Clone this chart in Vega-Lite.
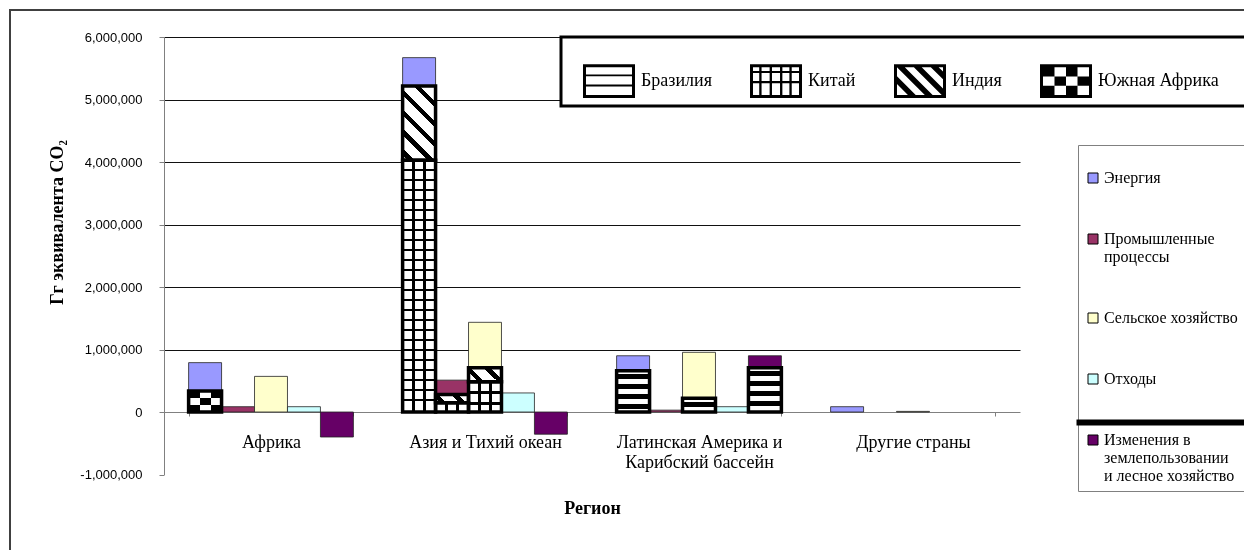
{
  "$schema": "https://vega.github.io/schema/vega-lite/v6.json",
  "autosize": {"type": "none"},
  "width": 856,
  "height": 437.5,
  "padding": {"left": 164, "top": 37, "right": 224, "bottom": 75.5},
  "background": "#ffffff",
  "config": {
    "font": "Liberation Serif",
    "view": {"stroke": null},
    "axis": {"labelColor": "#000", "titleColor": "#000"}
  },
  "datasets": {
    "sectors": [
      {"region": "Африка", "sector": "Энергия", "value": 790000},
      {"region": "Африка", "sector": "Промышленные процессы", "value": 85000},
      {"region": "Африка", "sector": "Сельское хозяйство", "value": 570000},
      {"region": "Африка", "sector": "Отходы", "value": 85000},
      {"region": "Африка", "sector": "Изменения в землепользовании и лесное хозяйство", "value": -400000},
      {"region": "Азия и Тихий океан", "sector": "Энергия", "value": 5670000},
      {"region": "Азия и Тихий океан", "sector": "Промышленные процессы", "value": 510000},
      {"region": "Азия и Тихий океан", "sector": "Сельское хозяйство", "value": 1435000},
      {"region": "Азия и Тихий океан", "sector": "Отходы", "value": 305000},
      {"region": "Азия и Тихий океан", "sector": "Изменения в землепользовании и лесное хозяйство", "value": -355000},
      {"region": "Латинская Америка и Карибский бассейн", "sector": "Энергия", "value": 900000},
      {"region": "Латинская Америка и Карибский бассейн", "sector": "Промышленные процессы", "value": 30000},
      {"region": "Латинская Америка и Карибский бассейн", "sector": "Сельское хозяйство", "value": 955000},
      {"region": "Латинская Америка и Карибский бассейн", "sector": "Отходы", "value": 85000},
      {"region": "Латинская Америка и Карибский бассейн", "sector": "Изменения в землепользовании и лесное хозяйство", "value": 900000},
      {"region": "Другие страны", "sector": "Энергия", "value": 85000},
      {"region": "Другие страны", "sector": "Сельское хозяйство", "value": 10000}
    ],
    "parts": [
      {"region": "Африка", "sector": "Энергия", "country": "Южная Африка", "lo": 0, "hi": 335000},
      {"region": "Азия и Тихий океан", "sector": "Энергия", "country": "Китай", "lo": 0, "hi": 4030000},
      {"region": "Азия и Тихий океан", "sector": "Энергия", "country": "Индия", "lo": 4030000, "hi": 5215000},
      {"region": "Азия и Тихий океан", "sector": "Промышленные процессы", "country": "Китай", "lo": 0, "hi": 150000},
      {"region": "Азия и Тихий океан", "sector": "Промышленные процессы", "country": "Индия", "lo": 150000, "hi": 280000},
      {"region": "Азия и Тихий океан", "sector": "Сельское хозяйство", "country": "Китай", "lo": 0, "hi": 485000},
      {"region": "Азия и Тихий океан", "sector": "Сельское хозяйство", "country": "Индия", "lo": 485000, "hi": 710000},
      {"region": "Латинская Америка и Карибский бассейн", "sector": "Энергия", "country": "Бразилия", "lo": 0, "hi": 660000},
      {"region": "Латинская Америка и Карибский бассейн", "sector": "Сельское хозяйство", "country": "Бразилия", "lo": 0, "hi": 220000},
      {"region": "Латинская Америка и Карибский бассейн", "sector": "Изменения в землепользовании и лесное хозяйство", "country": "Бразилия", "lo": 0, "hi": 710000}
    ]
  },
  "layer": [
    {
      "data": {"name": "sectors"},
      "mark": {"type": "bar", "stroke": "#222222", "strokeWidth": 0.8},
      "encoding": {
        "x": {
          "field": "region", "type": "nominal",
          "scale": {
            "domain": ["Африка", "Азия и Тихий океан", "Латинская Америка и Карибский бассейн", "Другие страны"],
            "paddingInner": 0.23, "paddingOuter": 0.115
          },
          "axis": {
            "title": "Регион",
            "offset": -62.5,
            "labelAngle": 0,
            "labelFont": "Liberation Serif", "labelFontSize": 18, "labelLineHeight": 20,
            "labelPadding": 17, "labelLimit": 400,
            "labelExpr": "datum.value == 'Латинская Америка и Карибский бассейн' ? ['Латинская Америка и', 'Карибский бассейн'] : datum.value",
            "tickBand": "extent", "tickSize": 4, "tickColor": "#808080", "domainColor": "#808080",
            "titleFont": "Liberation Serif", "titleFontSize": 18, "titleFontWeight": "bold", "titlePadding": 28
          }
        },
        "xOffset": {
          "field": "sector", "type": "nominal",
          "scale": {
            "domain": ["Энергия", "Промышленные процессы", "Сельское хозяйство", "Отходы", "Изменения в землепользовании и лесное хозяйство"],
            "paddingInner": 0, "paddingOuter": 0
          }
        },
        "y": {
          "field": "value", "type": "quantitative",
          "scale": {"domain": [-1000000, 6000000], "nice": false},
          "axis": {
            "title": "Гг эквивалента CO₂",
            "values": [-1000000, 0, 1000000, 2000000, 3000000, 4000000, 5000000, 6000000],
            "labelExpr": "datum.value < 0 ? '-' + format(-datum.value, ',') : format(datum.value, ',')",
            "labelFont": "Liberation Sans", "labelFontSize": 13, "labelPadding": 17,
            "tickSize": 5, "tickColor": "#808080", "domainColor": "#808080",
            "grid": true,
            "gridColor": {"condition": {"test": "datum.value <= 0", "value": "transparent"}, "value": "#111111"},
            "gridWidth": 1,
            "titleFont": "Liberation Serif", "titleFontSize": 18, "titleFontWeight": "bold",
            "titleX": -107, "titleY": 185, "titleAngle": 270, "titleAlign": "center", "titleBaseline": "middle"
          }
        },
        "fill": {
          "field": "sector", "type": "nominal",
          "scale": {
            "domain": ["Энергия", "Промышленные процессы", "Сельское хозяйство", "Отходы", "Изменения в землепользовании и лесное хозяйство"],
            "range": ["#9999ff", "#993366", "#ffffcc", "#ccffff", "#660066"]
          },
          "legend": {
            "title": " ", "titleFontSize": 10, "titlePadding": 8,
            "orient": "none", "legendX": 914, "legendY": 108, "direction": "vertical",
            "padding": 7, "strokeColor": "#808080", "fillColor": "#ffffff",
            "symbolType": "square", "symbolSize": 100, "symbolStrokeColor": "#000000", "symbolStrokeWidth": 1,
            "labelFont": "Liberation Serif", "labelFontSize": 16, "labelLineHeight": 17, "labelOffset": 3,
            "labelLimit": 400, "rowPadding": 45, "labelColor": "#000",
            "labelExpr": "datum.label == 'Промышленные процессы' ? ['Промышленные', 'процессы'] : datum.label == 'Изменения в землепользовании и лесное хозяйство' ? ['Изменения в', 'землепользовании', 'и лесное хозяйство'] : datum.label == 'Сельское хозяйство' ? 'Сельское хозяйство\u2800\u2800\u2800' : datum.label"
          }
        }
      }
    },
    {
      "data": {"name": "parts"},
      "mark": {"type": "bar"},
      "encoding": {
        "x": {"field": "region", "type": "nominal"},
        "xOffset": {"field": "sector", "type": "nominal"},
        "y": {"field": "lo", "type": "quantitative"},
        "y2": {"field": "hi"},
        "fill": {
          "condition": [
            {"test": "datum.country == 'Бразилия' && datum.sector == 'Энергия'",
             "value": {"gradient": "linear", "x1": 0, "y1": 0, "x2": 0, "y2": 1, "stops": [
               {"offset": 0, "color": "#fff"}, {"offset": 0.073, "color": "#fff"}, {"offset": 0.073, "color": "#000"}, {"offset": 0.194, "color": "#000"},
               {"offset": 0.194, "color": "#fff"}, {"offset": 0.315, "color": "#fff"}, {"offset": 0.315, "color": "#000"}, {"offset": 0.436, "color": "#000"},
               {"offset": 0.436, "color": "#fff"}, {"offset": 0.558, "color": "#fff"}, {"offset": 0.558, "color": "#000"}, {"offset": 0.679, "color": "#000"},
               {"offset": 0.679, "color": "#fff"}, {"offset": 0.8, "color": "#fff"}, {"offset": 0.8, "color": "#000"}, {"offset": 0.921, "color": "#000"},
               {"offset": 0.921, "color": "#fff"}, {"offset": 1, "color": "#fff"}]}},
            {"test": "datum.country == 'Бразилия' && datum.sector == 'Сельское хозяйство'",
             "value": {"gradient": "linear", "x1": 0, "y1": 0, "x2": 0, "y2": 1, "stops": [
               {"offset": 0, "color": "#fff"}, {"offset": 0.255, "color": "#fff"}, {"offset": 0.255, "color": "#000"}, {"offset": 0.655, "color": "#000"},
               {"offset": 0.655, "color": "#fff"}, {"offset": 1, "color": "#fff"}]}},
            {"test": "datum.country == 'Бразилия'",
             "value": {"gradient": "linear", "x1": 0, "y1": 0, "x2": 0, "y2": 1, "stops": [
               {"offset": 0, "color": "#fff"}, {"offset": 0.068, "color": "#fff"}, {"offset": 0.068, "color": "#000"}, {"offset": 0.18, "color": "#000"},
               {"offset": 0.18, "color": "#fff"}, {"offset": 0.293, "color": "#fff"}, {"offset": 0.293, "color": "#000"}, {"offset": 0.405, "color": "#000"},
               {"offset": 0.405, "color": "#fff"}, {"offset": 0.518, "color": "#fff"}, {"offset": 0.518, "color": "#000"}, {"offset": 0.631, "color": "#000"},
               {"offset": 0.631, "color": "#fff"}, {"offset": 0.743, "color": "#fff"}, {"offset": 0.743, "color": "#000"}, {"offset": 0.856, "color": "#000"},
               {"offset": 0.856, "color": "#fff"}, {"offset": 0.968, "color": "#fff"}, {"offset": 0.968, "color": "#000"}, {"offset": 1, "color": "#000"}]}},
            {"test": "datum.country == 'Китай' && datum.sector == 'Энергия'",
             "value": {"gradient": "linear", "x1": 0, "y1": 0, "x2": 0, "y2": 1, "stops": [
               {"offset": 0, "color": "#fff"},
               {"offset": 0.0347, "color": "#fff"}, {"offset": 0.0347, "color": "#000"}, {"offset": 0.0447, "color": "#000"}, {"offset": 0.0447, "color": "#fff"},
               {"offset": 0.0744, "color": "#fff"}, {"offset": 0.0744, "color": "#000"}, {"offset": 0.0844, "color": "#000"}, {"offset": 0.0844, "color": "#fff"},
               {"offset": 0.1141, "color": "#fff"}, {"offset": 0.1141, "color": "#000"}, {"offset": 0.1241, "color": "#000"}, {"offset": 0.1241, "color": "#fff"},
               {"offset": 0.1538, "color": "#fff"}, {"offset": 0.1538, "color": "#000"}, {"offset": 0.1638, "color": "#000"}, {"offset": 0.1638, "color": "#fff"},
               {"offset": 0.1935, "color": "#fff"}, {"offset": 0.1935, "color": "#000"}, {"offset": 0.2035, "color": "#000"}, {"offset": 0.2035, "color": "#fff"},
               {"offset": 0.2332, "color": "#fff"}, {"offset": 0.2332, "color": "#000"}, {"offset": 0.2432, "color": "#000"}, {"offset": 0.2432, "color": "#fff"},
               {"offset": 0.2729, "color": "#fff"}, {"offset": 0.2729, "color": "#000"}, {"offset": 0.2829, "color": "#000"}, {"offset": 0.2829, "color": "#fff"},
               {"offset": 0.3126, "color": "#fff"}, {"offset": 0.3126, "color": "#000"}, {"offset": 0.3226, "color": "#000"}, {"offset": 0.3226, "color": "#fff"},
               {"offset": 0.3523, "color": "#fff"}, {"offset": 0.3523, "color": "#000"}, {"offset": 0.3623, "color": "#000"}, {"offset": 0.3623, "color": "#fff"},
               {"offset": 0.392, "color": "#fff"}, {"offset": 0.392, "color": "#000"}, {"offset": 0.402, "color": "#000"}, {"offset": 0.402, "color": "#fff"},
               {"offset": 0.4317, "color": "#fff"}, {"offset": 0.4317, "color": "#000"}, {"offset": 0.4417, "color": "#000"}, {"offset": 0.4417, "color": "#fff"},
               {"offset": 0.4714, "color": "#fff"}, {"offset": 0.4714, "color": "#000"}, {"offset": 0.4814, "color": "#000"}, {"offset": 0.4814, "color": "#fff"},
               {"offset": 0.5111, "color": "#fff"}, {"offset": 0.5111, "color": "#000"}, {"offset": 0.5211, "color": "#000"}, {"offset": 0.5211, "color": "#fff"},
               {"offset": 0.5508, "color": "#fff"}, {"offset": 0.5508, "color": "#000"}, {"offset": 0.5608, "color": "#000"}, {"offset": 0.5608, "color": "#fff"},
               {"offset": 0.5905, "color": "#fff"}, {"offset": 0.5905, "color": "#000"}, {"offset": 0.6005, "color": "#000"}, {"offset": 0.6005, "color": "#fff"},
               {"offset": 0.6302, "color": "#fff"}, {"offset": 0.6302, "color": "#000"}, {"offset": 0.6402, "color": "#000"}, {"offset": 0.6402, "color": "#fff"},
               {"offset": 0.6699, "color": "#fff"}, {"offset": 0.6699, "color": "#000"}, {"offset": 0.6799, "color": "#000"}, {"offset": 0.6799, "color": "#fff"},
               {"offset": 0.7096, "color": "#fff"}, {"offset": 0.7096, "color": "#000"}, {"offset": 0.7196, "color": "#000"}, {"offset": 0.7196, "color": "#fff"},
               {"offset": 0.7493, "color": "#fff"}, {"offset": 0.7493, "color": "#000"}, {"offset": 0.7593, "color": "#000"}, {"offset": 0.7593, "color": "#fff"},
               {"offset": 0.789, "color": "#fff"}, {"offset": 0.789, "color": "#000"}, {"offset": 0.799, "color": "#000"}, {"offset": 0.799, "color": "#fff"},
               {"offset": 0.8287, "color": "#fff"}, {"offset": 0.8287, "color": "#000"}, {"offset": 0.8387, "color": "#000"}, {"offset": 0.8387, "color": "#fff"},
               {"offset": 0.8684, "color": "#fff"}, {"offset": 0.8684, "color": "#000"}, {"offset": 0.8784, "color": "#000"}, {"offset": 0.8784, "color": "#fff"},
               {"offset": 0.9081, "color": "#fff"}, {"offset": 0.9081, "color": "#000"}, {"offset": 0.9181, "color": "#000"}, {"offset": 0.9181, "color": "#fff"},
               {"offset": 0.9478, "color": "#fff"}, {"offset": 0.9478, "color": "#000"}, {"offset": 0.9578, "color": "#000"}, {"offset": 0.9578, "color": "#fff"},
               {"offset": 1, "color": "#fff"}]}},
            {"test": "datum.country == 'Китай' && datum.sector == 'Сельское хозяйство'",
             "value": {"gradient": "linear", "x1": 0, "y1": 0, "x2": 0, "y2": 1, "stops": [
               {"offset": 0, "color": "#fff"}, {"offset": 0.313, "color": "#fff"}, {"offset": 0.313, "color": "#000"}, {"offset": 0.413, "color": "#000"},
               {"offset": 0.413, "color": "#fff"}, {"offset": 0.663, "color": "#fff"}, {"offset": 0.663, "color": "#000"}, {"offset": 0.763, "color": "#000"},
               {"offset": 0.763, "color": "#fff"}, {"offset": 1, "color": "#fff"}]}},
            {"test": "datum.country == 'Индия' && datum.sector == 'Энергия'",
             "value": {"gradient": "linear", "x1": 0, "y1": 1, "x2": 0.537, "y2": -0.206, "stops": [
               {"offset": 0, "color": "#fff"}, {"offset": 0.05, "color": "#fff"}, {"offset": 0.05, "color": "#000"}, {"offset": 0.11, "color": "#000"},
               {"offset": 0.11, "color": "#fff"}, {"offset": 0.235, "color": "#fff"}, {"offset": 0.235, "color": "#000"}, {"offset": 0.295, "color": "#000"},
               {"offset": 0.295, "color": "#fff"}, {"offset": 0.42, "color": "#fff"}, {"offset": 0.42, "color": "#000"}, {"offset": 0.48, "color": "#000"},
               {"offset": 0.48, "color": "#fff"}, {"offset": 0.605, "color": "#fff"}, {"offset": 0.605, "color": "#000"}, {"offset": 0.665, "color": "#000"},
               {"offset": 0.665, "color": "#fff"}, {"offset": 0.79, "color": "#fff"}, {"offset": 0.79, "color": "#000"}, {"offset": 0.85, "color": "#000"},
               {"offset": 0.85, "color": "#fff"}, {"offset": 0.975, "color": "#fff"}, {"offset": 0.975, "color": "#000"}, {"offset": 1, "color": "#000"}]}},
            {"test": "datum.country == 'Индия' && datum.sector == 'Промышленные процессы'",
             "value": {"gradient": "linear", "x1": 0, "y1": 1, "x2": 1.175, "y2": 0.712, "stops": [
               {"offset": 0, "color": "#fff"}, {"offset": 0.1, "color": "#fff"}, {"offset": 0.1, "color": "#000"}, {"offset": 0.255, "color": "#000"},
               {"offset": 0.255, "color": "#fff"}, {"offset": 0.58, "color": "#fff"}, {"offset": 0.58, "color": "#000"}, {"offset": 0.735, "color": "#000"},
               {"offset": 0.735, "color": "#fff"}, {"offset": 1, "color": "#fff"}]}},
            {"test": "datum.country == 'Индия'",
             "value": {"gradient": "linear", "x1": 0, "y1": 1, "x2": 1.207, "y2": 0.484, "stops": [
               {"offset": 0, "color": "#fff"}, {"offset": 0.2, "color": "#fff"}, {"offset": 0.2, "color": "#000"}, {"offset": 0.335, "color": "#000"},
               {"offset": 0.335, "color": "#fff"}, {"offset": 0.62, "color": "#fff"}, {"offset": 0.62, "color": "#000"}, {"offset": 0.755, "color": "#000"},
               {"offset": 0.755, "color": "#fff"}, {"offset": 1, "color": "#fff"}]}},
            {"test": "datum.country == 'Южная Африка'",
             "value": {"gradient": "linear", "x1": 0, "y1": 0, "x2": 1, "y2": 0, "stops": [
               {"offset": 0, "color": "#000"}, {"offset": 0.333, "color": "#000"}, {"offset": 0.333, "color": "#fff"}, {"offset": 0.667, "color": "#fff"},
               {"offset": 0.667, "color": "#000"}, {"offset": 1, "color": "#000"}]}}
          ],
          "value": "#ffffff"
        }
      }
    },
    {
      "data": {"name": "parts"},
      "transform": [{"filter": "datum.country == 'Китай'"}],
      "mark": {
        "type": "bar",
        "fill": {"gradient": "linear", "x1": 0, "y1": 0, "x2": 1, "y2": 0, "stops": [
          {"offset": 0, "color": "rgba(0,0,0,0)"}, {"offset": 0.295, "color": "rgba(0,0,0,0)"}, {"offset": 0.295, "color": "#000"}, {"offset": 0.371, "color": "#000"},
          {"offset": 0.371, "color": "rgba(0,0,0,0)"}, {"offset": 0.629, "color": "rgba(0,0,0,0)"}, {"offset": 0.629, "color": "#000"}, {"offset": 0.705, "color": "#000"},
          {"offset": 0.705, "color": "rgba(0,0,0,0)"}, {"offset": 1, "color": "rgba(0,0,0,0)"}]}
      },
      "encoding": {
        "x": {"field": "region", "type": "nominal"},
        "xOffset": {"field": "sector", "type": "nominal"},
        "y": {"field": "lo", "type": "quantitative"},
        "y2": {"field": "hi"}
      }
    },
    {
      "data": {"name": "parts"},
      "transform": [{"filter": "datum.country == 'Южная Африка'"}],
      "mark": {
        "type": "bar",
        "blend": "difference",
        "fill": {"gradient": "linear", "x1": 0, "y1": 0, "x2": 0, "y2": 1, "stops": [
          {"offset": 0, "color": "#000"}, {"offset": 0.333, "color": "#000"}, {"offset": 0.333, "color": "#fff"}, {"offset": 0.667, "color": "#fff"},
          {"offset": 0.667, "color": "#000"}, {"offset": 1, "color": "#000"}]}
      },
      "encoding": {
        "x": {"field": "region", "type": "nominal"},
        "xOffset": {"field": "sector", "type": "nominal"},
        "y": {"field": "lo", "type": "quantitative"},
        "y2": {"field": "hi"}
      }
    },
    {
      "data": {"name": "parts"},
      "mark": {"type": "bar", "fill": "#ffffff", "fillOpacity": 0, "stroke": "#000000", "strokeWidth": 3.5},
      "encoding": {
        "x": {"field": "region", "type": "nominal"},
        "xOffset": {"field": "sector", "type": "nominal"},
        "y": {"field": "lo", "type": "quantitative"},
        "y2": {"field": "hi"}
      }
    },
    {
      "data": {"name": "parts"},
      "mark": {"type": "point", "filled": true, "color": "#000000", "opacity": 0},
      "encoding": {
        "x": {"field": "region", "type": "nominal"},
        "xOffset": {"field": "sector", "type": "nominal"},
        "y": {"field": "hi", "type": "quantitative"},
        "shape": {
          "field": "country", "type": "nominal",
          "scale": {
            "domain": ["Бразилия", "Китай", "Индия", "Южная Африка"],
            "range": [
              "M-1,-0.65H1V0.65H-1Z M-0.885,-0.535V0.535H0.885V-0.535Z M-0.885,-0.255H0.885V-0.185H-0.885Z M-0.885,0.135H0.885V0.205H-0.885Z",
              "M-1,-0.65H1V0.65H-1Z M-0.885,-0.535V0.535H0.885V-0.535Z M-0.645,-0.535H-0.555V0.535H-0.645Z M-0.245,-0.535H-0.155V0.535H-0.245Z M0.155,-0.535H0.245V0.535H0.155Z M0.515,-0.535H0.605V0.535H0.515Z M-0.885,-0.39H0.885V-0.31H-0.885Z M-0.885,0H0.885V0.08H-0.885Z",
              "M-1,-0.65H1V0.65H-1Z M-0.885,-0.535V0.535H0.885V-0.535Z M-0.885,-0.535L-0.585,-0.535L0.485,0.535L0.185,0.535Z M-0.235,-0.535L0.065,-0.535L0.885,0.285L0.885,0.535L0.835,0.535Z M0.415,-0.535L0.715,-0.535L0.885,-0.365L0.885,-0.065Z M-0.885,-0.185L-0.165,0.535L-0.465,0.535L-0.885,0.115Z",
              "M-1,-0.65H1V0.65H-1Z M-0.885,-0.535V0.535H0.885V-0.535Z M-0.885,-0.535H-0.4425V-0.178H-0.885Z M0,-0.535H0.4425V-0.178H0Z M-0.4425,-0.178H0V0.178H-0.4425Z M0.4425,-0.178H0.885V0.178H0.4425Z M-0.885,0.178H-0.4425V0.535H-0.885Z M0,0.178H0.4425V0.535H0Z"
            ]
          },
          "legend": {
            "title": " ", "titleFontSize": 6, "titlePadding": 4,
            "orient": "none", "legendX": 397, "legendY": 0, "direction": "horizontal",
            "padding": 8, "strokeColor": "#000000", "fillColor": "#ffffff",
            "symbolSize": 2704, "symbolStrokeWidth": 0, "symbolFillColor": "#000000", "symbolOpacity": 1,
            "symbolOffset": 14,
            "labelFont": "Liberation Serif", "labelFontSize": 18, "labelOffset": 6, "labelColor": "#000",
            "columnPadding": 24, "labelLimit": 400,
            "labelExpr": "datum.label == 'Южная Африка' ? datum.label + '\u2800\u2800\u2800\u2800\u2800' : datum.label",
            "encoding": {"legend": {"strokeWidth": {"value": 3}}}
          }
        }
      }
    },
    {
      "data": {"name": "parts"},
      "mark": {"type": "point", "opacity": 0},
      "encoding": {
        "x": {"field": "region", "type": "nominal"},
        "xOffset": {"field": "sector", "type": "nominal"},
        "y": {"field": "hi", "type": "quantitative"},
        "stroke": {
          "field": "hi", "type": "quantitative",
          "legend": {
            "title": null, "orient": "none", "legendX": 914, "legendY": 384, "direction": "horizontal",
            "gradientLength": 168, "gradientThickness": 0.1, "gradientOpacity": 0, "gradientStrokeWidth": 0,
            "labelFontSize": 0, "labelOpacity": 0, "labelExpr": "''", "padding": 0,
            "strokeColor": "#000000", "fillColor": null,
            "encoding": {"legend": {"strokeWidth": {"value": 3}}}
          }
        }
      }
    },
    {
      "data": {"name": "parts"},
      "mark": {"type": "point", "opacity": 0},
      "encoding": {
        "x": {"field": "region", "type": "nominal"},
        "xOffset": {"field": "sector", "type": "nominal"},
        "y": {"field": "hi", "type": "quantitative"},
        "strokeDash": {
          "datum": "frame", "type": "nominal",
          "legend": {
            "title": null, "orient": "none", "legendX": -154, "legendY": -27,
            "padding": 800, "strokeColor": "#404040", "fillColor": null,
            "symbolOpacity": 0, "labelExpr": "''",
            "encoding": {"legend": {"strokeWidth": {"value": 2}}}
          }
        }
      }
    }
  ]
}
